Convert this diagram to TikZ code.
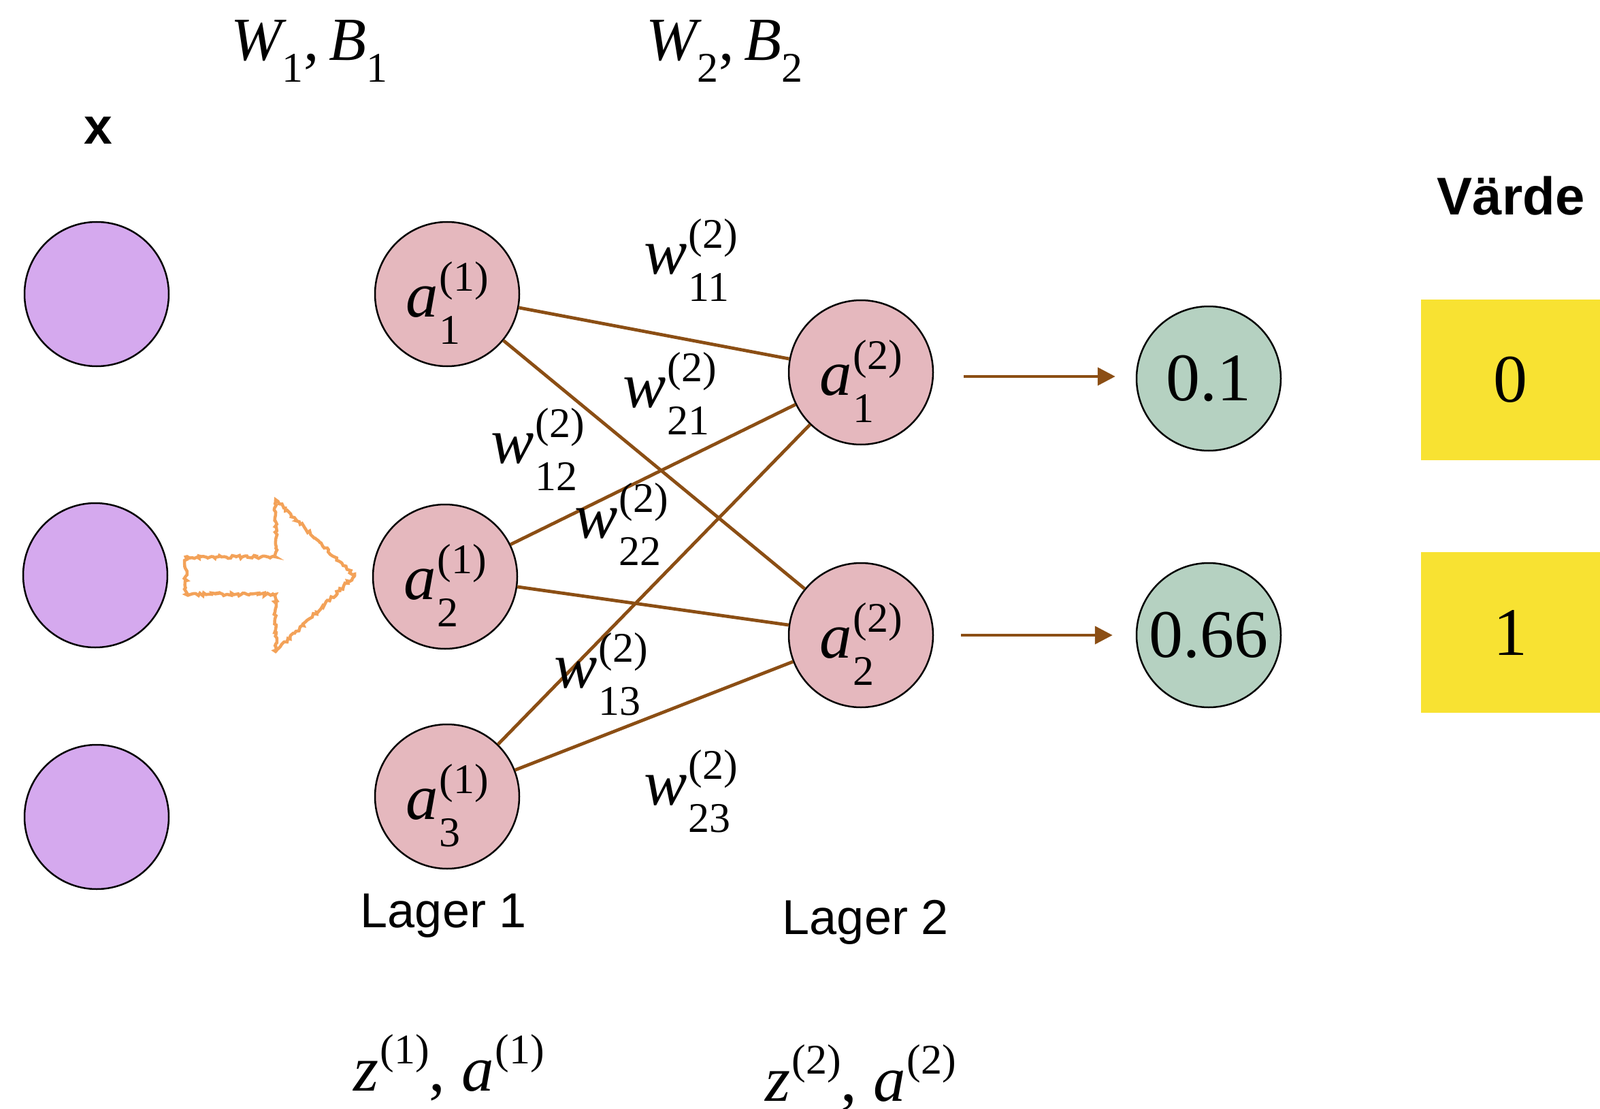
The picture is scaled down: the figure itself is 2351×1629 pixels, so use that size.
\documentclass[tikz,border=0pt]{standalone}
\usepackage{amsmath}
\usepackage{fontspec}
\setmainfont{Liberation Serif}
\newfontfamily\sansf{Liberation Sans}
\usetikzlibrary{decorations.pathmorphing,arrows.meta}
\definecolor{inpurple}{HTML}{D5A9EE}
\definecolor{hidpink}{HTML}{E5B8BE}
\definecolor{outgreen}{HTML}{B5D1C1}
\definecolor{valyellow}{HTML}{F8E232}
\definecolor{edgebrown}{HTML}{8B4E14}
\definecolor{sketchorange}{HTML}{F3A259}
\newcommand{\scrf}{\fontsize{62}{62}\selectfont}
\newsavebox\mysupbox
\newsavebox\mysubbox
\newlength\mywd
\newcommand{\nlab}[3]{\sbox\mysupbox{\scrf(#2)}\sbox\mysubbox{\scrf #3}%
  \setlength\mywd{\wd\mysupbox}%
  \ifdim\wd\mysubbox>\mywd\setlength\mywd{\wd\mysubbox}\fi
  \textit{#1}\kern2pt\rlap{\raisebox{38pt}{\usebox\mysupbox}}%
  \rlap{\raisebox{-40pt}{\usebox\mysubbox}}\hspace{\mywd}}
\newcommand{\alab}[3]{\raisebox{-33pt}[0pt][0pt]{\nlab{#1}{#2}{#3}}}
\newcommand{\wlabel}[3]{\raisebox{-20pt}[0pt][0pt]{\nlab{#1}{#2}{#3}}}
\newcommand{\suplab}[2]{\textit{#1}\kern2pt\raisebox{40pt}{\scrf(#2)}}
\begin{document}
\begin{tikzpicture}[x=1pt,y=-1pt,
  neuron/.style={circle,draw=black,line width=2.5pt,minimum size=212pt,inner sep=0pt,
    font=\fontsize{95}{105}\selectfont},
  inneuron/.style={neuron,fill=inpurple},
  hidneuron/.style={neuron,fill=hidpink},
  outneuron/.style={neuron,fill=outgreen,font=\fontsize{100}{110}\selectfont},
  valbox/.style={rectangle,fill=valyellow,minimum width=263pt,minimum height=236pt,
    inner sep=0pt,anchor=north west,font=\fontsize{100}{110}\selectfont},
  wlab/.style={inner sep=0pt,font=\fontsize{95}{105}\selectfont},
  sanslab/.style={inner sep=0pt,font=\sansf\fontsize{72}{80}\selectfont},
  sansbold/.style={inner sep=0pt,font=\sansf\bfseries\fontsize{78}{86}\selectfont},
  conn/.style={draw=edgebrown,line width=4.8pt},
  outarrow/.style={draw=edgebrown,line width=4.5pt,-{Triangle[length=26pt,width=26pt]}},
  sketch/.style={draw=sketchorange,line width=4.5pt,decorate,
    decoration={random steps,segment length=3pt,amplitude=2.2pt}}
]
\useasboundingbox (0,0) rectangle (2351,1629);

% input layer
\node[inneuron] (i1) at (142,432) {};
\node[inneuron] (i2) at (140,845) {};
\node[inneuron] (i3) at (142,1200) {};

% layer 1
\node[hidneuron] (h1) at (657,432) {\alab{a}{1}{1}};
\node[hidneuron] (h2) at (654,847) {\alab{a}{1}{2}};
\node[hidneuron] (h3) at (657,1170) {\alab{a}{1}{3}};

% layer 2
\node[hidneuron] (l1) at (1265,547) {\alab{a}{2}{1}};
\node[hidneuron] (l2) at (1265,933) {\alab{a}{2}{2}};

% outputs
\node[outneuron] (o1) at (1776,556) {0.1};
\node[outneuron] (o2) at (1776,933) {0.66};

% target values
\node[valbox] (v1) at (2088,440) {0};
\node[valbox] (v2) at (2088,811) {1};

% connections
\draw[conn] (h1) -- (l1);
\draw[conn] (h1) -- (l2);
\draw[conn] (h2) -- (l1);
\draw[conn] (h2) -- (l2);
\draw[conn] (h3) -- (l1);
\draw[conn] (h3) -- (l2);

\draw[outarrow] ([xshift=44pt]l1.east |- 0,553) -- ([xshift=-30pt]o1.west |- 0,553);
\draw[outarrow] ([xshift=40pt]l2.east) -- ([xshift=-34pt]o2.west);

% sketchy hollow arrow
\draw[sketch] (273,818) -- (405,818) -- (405,734) -- (521,846) -- (405,957)
  -- (405,873) -- (273,873) -- cycle;

% weight labels
\node[wlab] (w11) at (1015,382) {\wlabel{w}{2}{11}};
\node[wlab] (w21) at (984,578) {\wlabel{w}{2}{21}};
\node[wlab] (w12) at (790,660) {\wlabel{w}{2}{12}};
\node[wlab] (w22) at (913,770) {\wlabel{w}{2}{22}};
\node[wlab] (w13) at (883,990) {\wlabel{w}{2}{13}};
\node[wlab] (w23) at (1015,1162) {\wlabel{w}{2}{23}};

% top labels
\node[wlab,font=\fontsize{90}{100}\selectfont] (wb1) at (455,75)
  {$\textit{W}_{\mbox{\scrf 1}}\text{,\,}\textit{B}_{\mbox{\scrf 1}}$};
\node[wlab,font=\fontsize{90}{100}\selectfont] (wb2) at (1065,75)
  {$\textit{W}_{\mbox{\scrf 2}}\text{,\,}\textit{B}_{\mbox{\scrf 2}}$};
\node[sansbold,font=\sansf\bfseries\fontsize{75}{80}\selectfont] (x) at (144,192) {x};
\node[sansbold] (varde) at (2220,288) {Värde};

% layer labels
\node[sanslab] (lag1) at (652,1345) {Lager 1};
\node[sanslab] (lag2) at (1272,1355) {Lager 2};
\node[wlab,anchor=base] (za1) at (660,1602) {\suplab{z}{1}, \suplab{a}{1}};
\node[wlab,anchor=base] (za2) at (1265,1617) {\suplab{z}{2}, \suplab{a}{2}};
\end{tikzpicture}
\end{document}
